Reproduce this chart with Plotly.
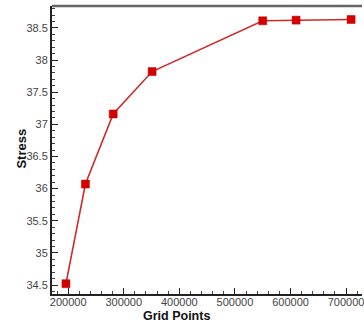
import plotly.graph_objects as go

grid_points = [196000, 231000, 281000, 351000, 550000, 610000, 709000]
stress = [34.52, 36.07, 37.16, 37.82, 38.61, 38.62, 38.63]
x_ticks = [200000, 300000, 400000, 500000, 600000, 700000]
y_ticks = [34.5, 35, 35.5, 36, 36.5, 37, 37.5, 38, 38.5]

fig = go.Figure()
fig.add_trace(go.Scatter(
    x=grid_points, y=stress, mode="lines+markers",
    line=dict(color="#d02a2a", width=1.6),
    marker=dict(symbol="square", size=8, color="#d40000", line=dict(color="#c00000", width=0.5)),
    showlegend=False,
))

font_family = "Liberation Sans, Arial, sans-serif"
fig.update_layout(
    width=364, height=323,
    margin=dict(l=52, r=0, t=6, b=29),
    paper_bgcolor="white", plot_bgcolor="white",
    font=dict(family=font_family, color="#444444", size=11),
    xaxis=dict(
        range=[170900, 728600], tickvals=x_ticks, ticktext=[str(v) for v in x_ticks],
        showgrid=False, zeroline=False, showline=True, linecolor="#222222", linewidth=2,
        ticks="inside", ticklen=6, tickwidth=1.2, tickcolor="#222222",
        minor=dict(dtick=20000, ticks="inside", ticklen=3, tickcolor="#444444", tick0=0),
        tickfont=dict(size=11, color="#444444"), ticklabeloverflow="allow",
        ticklabelstandoff=-3,
    ),
    yaxis=dict(
        range=[34.36, 38.84], tickvals=y_ticks, ticktext=[f"{v:g}" for v in y_ticks],
        showgrid=False, zeroline=False, showline=True, linecolor="#222222", linewidth=2,
        ticks="inside", ticklen=6, tickwidth=1.2, tickcolor="#222222",
        minor=dict(dtick=0.1, ticks="inside", ticklen=3, tickcolor="#444444", tick0=0),
        tickfont=dict(size=11, color="#444444"),
    ),
    shapes=[dict(type="line", xref="paper", yref="paper", x0=0, x1=1, y0=1, y1=1,
                 line=dict(color="#666666", width=2.5))],
    annotations=[
        dict(text="<b>Grid Points</b>", xref="paper", yref="paper", x=0.4, y=0,
             yshift=-22, xanchor="center", yanchor="middle", showarrow=False,
             font=dict(size=12.5, color="#111111")),
        dict(text="<b>Stress</b>", xref="paper", yref="paper", x=0, y=0.505,
             xshift=-30, xanchor="center", yanchor="middle", showarrow=False,
             textangle=-90, font=dict(size=13, color="#111111")),
    ],
)
fig.write_html(
    "out.html",
    config={"displayModeBar": False},
    post_script="document.body.style.margin='0';document.body.style.overflow='hidden';",
)
